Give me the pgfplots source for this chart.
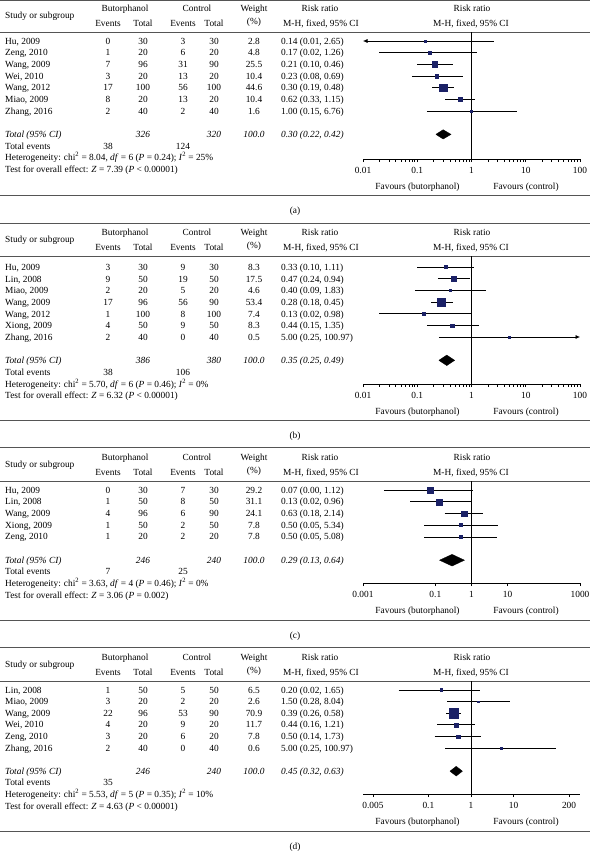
\documentclass[border=0pt]{standalone}
\usepackage{fontspec}
\setmainfont{Liberation Serif}
\usepackage{pgfplots}
\usepackage{pgfplotstable}
\pgfplotsset{compat=1.18}
\usetikzlibrary{arrows.meta}
\definecolor{sqcol}{HTML}{1B2166}
\definecolor{rulecol}{HTML}{555555}
\newcommand{\fs}{\fontsize{9.4}{11}\selectfont}
\tikzset{txt/.style={font=\fs, inner sep=0pt, text=black},
  cil/.style={black, line width=0.6bp},
  dmd/.style={black, fill=black, line width=0.3bp}}
% study data: row (negative = downwards), risk ratio, CI, weight
\pgfplotstableread{
row rr lo hi w
-1 0.14 0.01 2.65 2.8
-2 0.17 0.02 1.26 4.8
-3 0.21 0.10 0.46 25.5
-4 0.23 0.08 0.69 10.4
-5 0.30 0.19 0.48 44.6
-6 0.62 0.33 1.15 10.4
-7 1.00 0.15 6.76 1.6
}\tA
\pgfplotstableread{
row rr lo hi w
-1 0.33 0.10 1.11 8.3
-2 0.47 0.24 0.94 17.5
-3 0.40 0.09 1.83 4.6
-4 0.28 0.18 0.45 53.4
-5 0.13 0.02 0.98 7.4
-6 0.44 0.15 1.35 8.3
-7 5.00 0.25 100.97 0.5
}\tB
\pgfplotstableread{
row rr lo hi w
-1 0.07 0.0038 1.12 29.2
-2 0.13 0.02 0.96 31.1
-3 0.63 0.18 2.14 24.1
-4 0.50 0.05 5.34 7.8
-5 0.50 0.05 5.08 7.8
}\tC
\pgfplotstableread{
row rr lo hi w
-1 0.20 0.02 1.65 6.5
-2 1.50 0.28 8.04 2.6
-3 0.39 0.26 0.58 70.9
-4 0.44 0.16 1.21 11.7
-5 0.50 0.14 1.73 7.8
-6 5.00 0.25 100.97 0.6
}\tD

% #1 top rule, #2 header rule, #3 bottom rule, #4 label, #5 axis line
\newcommand{\panelhead}[5]{%
  \draw[rulecol, line width=0.9bp] (0,#1) -- (590,#1);
  \draw[rulecol, line width=0.7bp] (0,#2) -- (590,#2);
  \draw[rulecol, line width=0.9bp] (0,#3) -- (590,#3);
  \node[txt, anchor=base] at (295,{#3+18.5}) {(#4)};
  \node[txt, anchor=base west] at (5,{#2-14}) {Study or subgroup};
  \node[txt, anchor=base] at (125,{#2-21}) {Butorphanol};
  \node[txt, anchor=base] at (108,{#2-6}) {Events};
  \node[txt, anchor=base] at (143,{#2-6}) {Total};
  \node[txt, anchor=base] at (197,{#2-21}) {Control};
  \node[txt, anchor=base] at (183,{#2-6}) {Events};
  \node[txt, anchor=base] at (214,{#2-6}) {Total};
  \node[txt, anchor=base] at (254,{#2-21}) {Weight};
  \node[txt, anchor=base] at (254,{#2-8}) {(\%)};
  \node[txt, anchor=base] at (320,{#2-21}) {Risk ratio};
  \node[txt, anchor=base] at (321,{#2-6}) {M-H, fixed, 95\% CI};
  \node[txt, anchor=base] at (472,{#2-21}) {Risk ratio};
  \node[txt, anchor=base] at (471,{#2-6}) {M-H, fixed, 95\% CI};
  \node[txt, anchor=base] at (417.5,{#5+30}) {Favours (butorphanol)};
  \node[txt, anchor=base] at (526,{#5+30}) {Favours (control)};
}
% row k of current panel
\newcommand{\ry}[1]{\yz+(#1-1)*\hh+3}
\newcommand{\srow}[8]{%
  \node[txt, anchor=base west] at (5,{\ry{#1}}) {#2};
  \node[txt, anchor=base] at (108,{\ry{#1}}) {#3};
  \node[txt, anchor=base] at (143,{\ry{#1}}) {#4};
  \node[txt, anchor=base] at (183,{\ry{#1}}) {#5};
  \node[txt, anchor=base] at (214,{\ry{#1}}) {#6};
  \node[txt, anchor=base] at (254,{\ry{#1}}) {#7};
  \node[txt, anchor=base west] at (281,{\ry{#1}}) {#8};
}
% #1 row, #2 total1, #3 total2, #4 rr, #5 events1, #6 events2, #7 heterogeneity, #8 test
\newcommand{\totrows}[8]{%
  \node[txt, anchor=base west] at (5,{\ry{#1}}) {\textit{Total (95\% CI)}};
  \node[txt, anchor=base] at (143,{\ry{#1}}) {\textit{#2}};
  \node[txt, anchor=base] at (214,{\ry{#1}}) {\textit{#3}};
  \node[txt, anchor=base] at (254,{\ry{#1}}) {\textit{100.0}};
  \node[txt, anchor=base west] at (281,{\ry{#1}}) {\textit{#4}};
  \node[txt, anchor=base west] at (5,{\ry{#1+1}}) {Total events};
  \node[txt, anchor=base] at (108,{\ry{#1+1}}) {#5};
  \node[txt, anchor=base] at (183,{\ry{#1+1}}) {#6};
  \node[txt, anchor=base west] at (5,{\ry{#1+2}}) {#7};
  \node[txt, anchor=base west] at (5,{\ry{#1+3}}) {#8};
}

\begin{document}
\begin{tikzpicture}[x=1bp, y=-1bp]
\path[use as bounding box] (0,0) rectangle (590,851);

% ---------------- (a)
\panelhead{0.6}{32}{195}{a}{159}
\def\yz{41}\def\hh{11.67}
\srow{1}{Hu, 2009}{0}{30}{3}{30}{2.8}{0.14 (0.01, 2.65)}
\srow{2}{Zeng, 2010}{1}{20}{6}{20}{4.8}{0.17 (0.02, 1.26)}
\srow{3}{Wang, 2009}{7}{96}{31}{90}{25.5}{0.21 (0.10, 0.46)}
\srow{4}{Wei, 2010}{3}{20}{13}{20}{10.4}{0.23 (0.08, 0.69)}
\srow{5}{Wang, 2012}{17}{100}{56}{100}{44.6}{0.30 (0.19, 0.48)}
\srow{6}{Miao, 2009}{8}{20}{13}{20}{10.4}{0.62 (0.33, 1.15)}
\srow{7}{Zhang, 2016}{2}{40}{2}{40}{1.6}{1.00 (0.15, 6.76)}
\totrows{9}{326}{320}{0.30 (0.22, 0.42)}{38}{124}
  {Heterogeneity: chi\textsuperscript{2} = 8.04, \textit{df} = 6 (\textit{P} = 0.24); \textit{I}\textsuperscript{2} = 25\%}
  {Test for overall effect: \textit{Z} = 7.39 (\textit{P} < 0.00001)}
\begin{axis}[at={(363bp,-159bp)}, anchor=south west, scale only axis, width=217bp, height=127bp,
  xmode=log, enlargelimits=false, axis x line*=bottom, axis y line=none, clip=false,
  xtick align=outside, major tick length=3bp, minor xtick={},
  axis line style={black, line width=0.6bp}, tick style={black, line width=0.6bp},
  ticklabel style={font=\fs, inner sep=1bp}, xticklabel style={yshift=-4bp},
  xmin=0.01, xmax=100, ymin=-11.11, ymax=-0.229,
  xtick={0.01,0.1,1,10,100}, xticklabels={0.01,0.1,1,10,100}]
\addplot[cil] coordinates {(1,-11.11) (1,-0.229)};
\addplot[cil, {Latex[length=4.5bp,width=4bp]}-] coordinates {(0.01,-1) (2.65,-1)};
\addplot[cil] coordinates {(0.02,-2) (1.26,-2)};
\addplot[cil] coordinates {(0.10,-3) (0.46,-3)};
\addplot[cil] coordinates {(0.08,-4) (0.69,-4)};
\addplot[cil] coordinates {(0.19,-5) (0.48,-5)};
\addplot[cil] coordinates {(0.33,-6) (1.15,-6)};
\addplot[cil] coordinates {(0.15,-7) (6.76,-7)};
\addplot[only marks, scatter, mark=square*, scatter/use mapped color={draw=sqcol, fill=sqcol},
  mark options={line width=0.3bp},
  visualization depends on={max(0.9,0.55*sqrt(\thisrow{w})) \as \msz},
  scatter/@pre marker code/.append style={/tikz/mark size=\msz}]
  table[x=rr, y=row] {\tA};
\addplot[dmd] coordinates {(0.22,-9) (0.30,-8.6) (0.42,-9) (0.30,-9.4) (0.22,-9)};
\end{axis}

% ---------------- (b)
\panelhead{223}{256}{420}{b}{384}
\def\yz{267.5}\def\hh{11.67}
\srow{1}{Hu, 2009}{3}{30}{9}{30}{8.3}{0.33 (0.10, 1.11)}
\srow{2}{Lin, 2008}{9}{50}{19}{50}{17.5}{0.47 (0.24, 0.94)}
\srow{3}{Miao, 2009}{2}{20}{5}{20}{4.6}{0.40 (0.09, 1.83)}
\srow{4}{Wang, 2009}{17}{96}{56}{90}{53.4}{0.28 (0.18, 0.45)}
\srow{5}{Wang, 2012}{1}{100}{8}{100}{7.4}{0.13 (0.02, 0.98)}
\srow{6}{Xiong, 2009}{4}{50}{9}{50}{8.3}{0.44 (0.15, 1.35)}
\srow{7}{Zhang, 2016}{2}{40}{0}{40}{0.5}{5.00 (0.25, 100.97)}
\totrows{9}{386}{380}{0.35 (0.25, 0.49)}{38}{106}
  {Heterogeneity: chi\textsuperscript{2} = 5.70, \textit{df} = 6 (\textit{P} = 0.46); \textit{I}\textsuperscript{2} = 0\%}
  {Test for overall effect: \textit{Z} = 6.32 (\textit{P} < 0.00001)}
\begin{axis}[at={(363bp,-384bp)}, anchor=south west, scale only axis, width=217bp, height=128bp,
  xmode=log, enlargelimits=false, axis x line*=bottom, axis y line=none, clip=false,
  xtick align=outside, major tick length=3bp, minor xtick={},
  axis line style={black, line width=0.6bp}, tick style={black, line width=0.6bp},
  ticklabel style={font=\fs, inner sep=1bp}, xticklabel style={yshift=-4bp},
  xmin=0.01, xmax=100, ymin=-11.03, ymax=-0.057,
  xtick={0.01,0.1,1,10,100}, xticklabels={0.01,0.1,1,10,100}]
\addplot[cil] coordinates {(1,-11.03) (1,-0.057)};
\addplot[cil] coordinates {(0.10,-1) (1.11,-1)};
\addplot[cil] coordinates {(0.24,-2) (0.94,-2)};
\addplot[cil] coordinates {(0.09,-3) (1.83,-3)};
\addplot[cil] coordinates {(0.18,-4) (0.45,-4)};
\addplot[cil] coordinates {(0.02,-5) (0.98,-5)};
\addplot[cil] coordinates {(0.15,-6) (1.35,-6)};
\addplot[cil, -{Latex[length=4.5bp,width=4bp]}] coordinates {(0.25,-7) (100,-7)};
\addplot[only marks, scatter, mark=square*, scatter/use mapped color={draw=sqcol, fill=sqcol},
  mark options={line width=0.3bp},
  visualization depends on={max(0.9,0.55*sqrt(\thisrow{w})) \as \msz},
  scatter/@pre marker code/.append style={/tikz/mark size=\msz}]
  table[x=rr, y=row] {\tB};
\addplot[dmd] coordinates {(0.25,-9) (0.35,-8.55) (0.49,-9) (0.35,-9.45) (0.25,-9)};
\end{axis}

% ---------------- (c)
\panelhead{447}{481}{620}{c}{583}
\def\yz{490}\def\hh{11.7}
\srow{1}{Hu, 2009}{0}{30}{7}{30}{29.2}{0.07 (0.00, 1.12)}
\srow{2}{Lin, 2008}{1}{50}{8}{50}{31.1}{0.13 (0.02, 0.96)}
\srow{3}{Wang, 2009}{4}{96}{6}{90}{24.1}{0.63 (0.18, 2.14)}
\srow{4}{Xiong, 2009}{1}{50}{2}{50}{7.8}{0.50 (0.05, 5.34)}
\srow{5}{Zeng, 2010}{1}{20}{2}{20}{7.8}{0.50 (0.05, 5.08)}
\totrows{7}{246}{240}{0.29 (0.13, 0.64)}{7}{25}
  {Heterogeneity: chi\textsuperscript{2} = 3.63, \textit{df} = 4 (\textit{P} = 0.46); \textit{I}\textsuperscript{2} = 0\%}
  {Test for overall effect: \textit{Z} = 3.06 (\textit{P} = 0.002)}
\begin{axis}[at={(363bp,-583bp)}, anchor=south west, scale only axis, width=217bp, height=102bp,
  xmode=log, enlargelimits=false, axis x line*=bottom, axis y line=none, clip=false,
  xtick align=outside, major tick length=3bp, minor xtick={},
  axis line style={black, line width=0.6bp}, tick style={black, line width=0.6bp},
  ticklabel style={font=\fs, inner sep=1bp}, xticklabel style={yshift=-4bp},
  xmin=0.001, xmax=1000, ymin=-8.95, ymax=-0.231,
  xtick={0.001,0.1,1,10,1000}, xticklabels={0.001,0.1,1,10,1000}]
\addplot[cil] coordinates {(1,-8.95) (1,-0.231)};
\addplot[cil] coordinates {(0.0038,-1) (1.12,-1)};
\addplot[cil] coordinates {(0.02,-2) (0.96,-2)};
\addplot[cil] coordinates {(0.18,-3) (2.14,-3)};
\addplot[cil] coordinates {(0.05,-4) (5.34,-4)};
\addplot[cil] coordinates {(0.05,-5) (5.08,-5)};
\addplot[only marks, scatter, mark=square*, scatter/use mapped color={draw=sqcol, fill=sqcol},
  mark options={line width=0.3bp},
  visualization depends on={max(0.9,0.55*sqrt(\thisrow{w})) \as \msz},
  scatter/@pre marker code/.append style={/tikz/mark size=\msz}]
  table[x=rr, y=row] {\tC};
\addplot[dmd] coordinates {(0.13,-7) (0.29,-6.5) (0.64,-7) (0.29,-7.5) (0.13,-7)};
\end{axis}

% ---------------- (d)
\panelhead{647}{681}{831}{d}{794}
\def\yz{690}\def\hh{11.6}
\srow{1}{Lin, 2008}{1}{50}{5}{50}{6.5}{0.20 (0.02, 1.65)}
\srow{2}{Miao, 2009}{3}{20}{2}{20}{2.6}{1.50 (0.28, 8.04)}
\srow{3}{Wang, 2009}{22}{96}{53}{90}{70.9}{0.39 (0.26, 0.58)}
\srow{4}{Wei, 2010}{4}{20}{9}{20}{11.7}{0.44 (0.16, 1.21)}
\srow{5}{Zeng, 2010}{3}{20}{6}{20}{7.8}{0.50 (0.14, 1.73)}
\srow{6}{Zhang, 2016}{2}{40}{0}{40}{0.6}{5.00 (0.25, 100.97)}
\totrows{8}{246}{240}{0.45 (0.32, 0.63)}{35}{}
  {Heterogeneity: chi\textsuperscript{2} = 5.53, \textit{df} = 5 (\textit{P} = 0.35); \textit{I}\textsuperscript{2} = 10\%}
  {Test for overall effect: \textit{Z} = 4.63 (\textit{P} < 0.00001)}
\begin{axis}[at={(363bp,-794bp)}, anchor=south west, scale only axis, width=217bp, height=113bp,
  xmode=log, enlargelimits=false, axis x line*=bottom, axis y line=none, clip=false,
  xtick align=outside, major tick length=3bp, minor xtick={},
  axis line style={black, line width=0.6bp}, tick style={black, line width=0.6bp},
  ticklabel style={font=\fs, inner sep=1bp}, xticklabel style={yshift=-4bp},
  xmin=0.00292, xmax=362, ymin=-9.97, ymax=-0.224,
  xtick={0.005,0.1,1,10,200}, xticklabels={0.005,0.1,1,10,200}]
\addplot[cil] coordinates {(1,-9.97) (1,-0.224)};
\addplot[cil] coordinates {(0.02,-1) (1.65,-1)};
\addplot[cil] coordinates {(0.28,-2) (8.04,-2)};
\addplot[cil] coordinates {(0.26,-3) (0.58,-3)};
\addplot[cil] coordinates {(0.16,-4) (1.21,-4)};
\addplot[cil] coordinates {(0.14,-5) (1.73,-5)};
\addplot[cil] coordinates {(0.25,-6) (100.97,-6)};
\addplot[only marks, scatter, mark=square*, scatter/use mapped color={draw=sqcol, fill=sqcol},
  mark options={line width=0.3bp},
  visualization depends on={max(0.9,0.55*sqrt(\thisrow{w})) \as \msz},
  scatter/@pre marker code/.append style={/tikz/mark size=\msz}]
  table[x=rr, y=row] {\tD};
\addplot[dmd] coordinates {(0.32,-8) (0.45,-7.58) (0.63,-8) (0.45,-8.42) (0.32,-8)};
\end{axis}
\end{tikzpicture}
\end{document}
